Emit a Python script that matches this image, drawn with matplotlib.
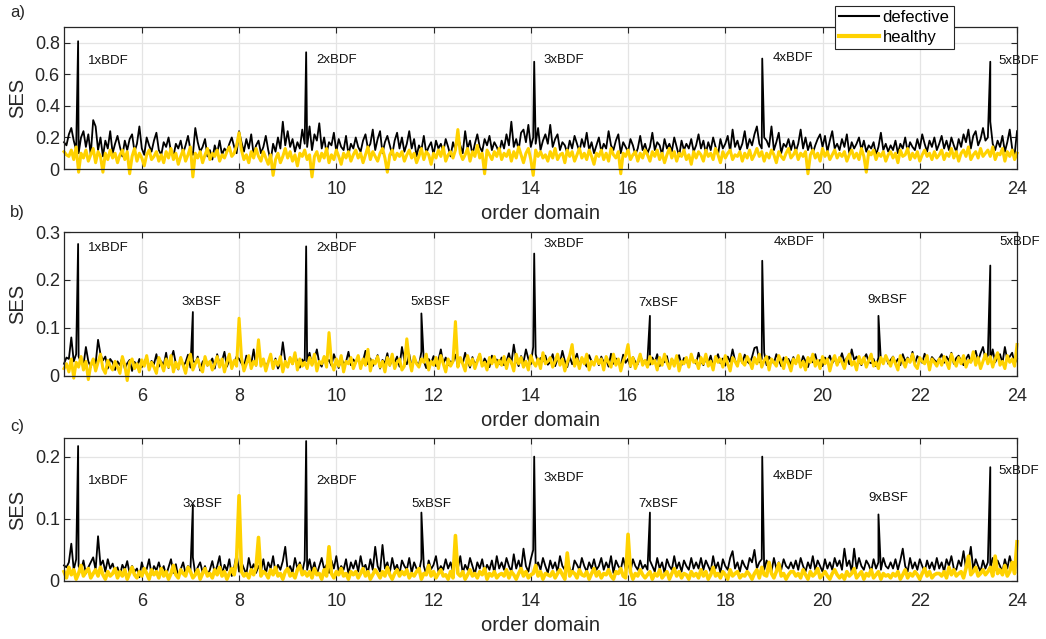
import numpy as np
import matplotlib
matplotlib.use('Agg')
import matplotlib.pyplot as plt

plt.rcParams['font.family'] = ['Liberation Sans', 'DejaVu Sans']

# ---------------- data ----------------
order_start, order_end = 4.4, 24.0
x_ticks = [6, 8, 10, 12, 14, 16, 18, 20, 22, 24]
bdf_orders = [4.69, 9.38, 14.07, 18.76, 23.45]
bsf_orders = [7.05, 11.75, 16.45, 21.15]
bdf_labels = ['1xBDF', '2xBDF', '3xBDF', '4xBDF', '5xBDF']
bsf_labels = ['3xBSF', '5xBSF', '7xBSF', '9xBSF']

# panel a: noise floor in units of 0.01
a_defective = [
    17,15,22,26,18,12,10,20,24,14,22,9,31,27,12,20,8,18,13,24,
    10,16,21,14,8,18,12,19,22,11,16,27,13,9,20,15,11,18,23,12,
    9,17,14,20,11,8,16,13,18,10,15,21,12,9,26,17,11,14,19,8,
    12,6,15,10,18,9,13,11,16,20,14,10,24,17,11,19,13,22,9,15,
    18,10,14,21,12,5,16,11,20,13,30,15,24,14,19,11,17,13,25,16,
    14,27,12,22,18,29,13,20,10,17,15,23,11,19,14,12,21,9,16,13,
    20,14,11,18,22,13,16,25,12,19,24,10,17,21,15,9,18,23,13,20,
    11,16,24,13,19,8,15,12,21,10,14,17,9,18,13,16,11,19,14,8,
    17,12,20,15,10,24,13,18,9,16,22,14,11,19,15,21,12,17,14,10,
    18,13,22,15,30,14,19,12,23,25,17,28,14,20,16,26,12,18,22,16,
    28,14,19,22,12,17,15,10,18,13,21,16,11,19,14,23,12,17,10,15,
    20,11,16,13,24,15,12,18,22,10,17,14,11,19,15,9,13,21,12,16,
    10,14,23,12,17,15,9,19,13,16,11,20,14,8,18,12,16,13,19,11,
    15,22,13,18,10,17,12,20,14,9,19,13,16,21,11,25,14,18,12,16,
    24,13,19,15,22,27,16,13,20,18,14,27,12,17,23,10,16,14,19,12,
    18,11,16,25,13,20,12,17,10,15,19,22,14,21,11,18,24,13,16,12,
    19,14,22,10,17,13,16,20,12,18,11,15,13,17,9,14,23,12,16,11,
    15,12,18,10,16,13,20,11,17,14,12,19,13,22,16,11,18,14,20,12,
    16,21,13,18,12,20,15,11,19,14,22,17,25,13,21,24,15,19,26,18,
    20,30,16,12,18,14,21,11,17,25,13,9,24]
a_healthy = [
    11,9,8,12,6,14,-2,10,7,12,5,9,13,4,11,8,-2,10,6,12,
    7,10,4,9,12,6,11,-3,8,13,5,10,7,2,9,12,6,8,11,5,
    9,4,11,7,13,6,10,3,8,12,5,9,14,-5,10,7,11,4,9,13,
    6,10,8,12,5,9,7,11,14,8,10,15,23,12,6,9,4,11,7,13,
    8,5,11,7,3,9,-4,6,10,4,8,13,7,11,5,9,2,10,8,12,
    6,9,-5,8,11,5,10,7,13,4,9,6,12,8,3,10,7,11,5,9,
    12,7,10,4,9,14,6,11,8,5,10,13,7,-2,9,12,6,10,8,11,
    5,9,12,7,10,4,8,13,6,11,9,3,10,7,12,8,14,5,9,11,
    7,12,25,10,6,9,13,5,11,8,15,7,10,-3,12,9,6,11,8,13,
    6,10,8,12,5,11,7,14,9,4,10,13,6,-4,12,8,11,7,9,5,
    11,7,13,6,9,10,4,12,8,11,5,9,13,7,10,6,12,8,3,10,
    8,12,6,10,5,13,9,7,11,-3,10,8,12,6,9,11,5,10,7,12,
    9,5,11,8,12,6,10,4,9,13,7,11,5,10,8,12,6,9,3,11,
    7,11,9,5,12,8,10,6,13,9,4,11,7,10,12,6,9,8,11,5,
    10,7,12,6,9,13,8,11,5,10,7,12,9,4,11,8,6,10,13,7,
    9,12,6,10,8,11,-3,9,12,7,10,5,13,8,11,6,9,12,7,10,
    8,11,5,9,12,7,10,6,13,8,-2,11,9,12,6,10,8,11,5,9,
    11,7,10,4,12,8,9,13,6,10,7,11,5,9,12,8,10,6,11,7,
    9,12,6,10,8,13,7,11,5,10,12,8,14,6,9,11,7,13,8,10,
    12,8,14,6,10,9,13,5,11,8,12,6,10]
a_defective_bdf_peaks = [0.81, 0.74, 0.68, 0.70, 0.68]

# panel b: noise floor in units of 0.001
b_defective = [
    25,38,35,80,30,45,40,28,22,60,30,18,35,25,75,45,32,40,15,35,
    28,12,30,22,38,15,26,33,10,29,20,35,18,27,40,14,31,24,45,19,
    30,22,48,16,35,52,25,13,38,20,28,44,17,32,26,40,11,29,35,21,
    27,36,15,45,24,31,50,19,33,22,28,40,35,26,18,42,30,24,55,21,
    60,25,33,18,29,41,22,36,15,27,70,31,20,38,24,45,28,17,34,26,
    30,48,22,35,55,26,19,40,28,33,21,45,30,16,38,25,29,50,22,34,
    27,39,18,31,52,24,36,20,29,43,15,33,26,47,21,35,28,40,19,60,
    32,24,45,18,37,28,22,50,30,16,35,26,41,20,33,55,25,38,22,30,
    28,44,19,35,25,48,30,17,39,23,32,45,21,36,27,18,42,29,34,24,
    38,22,30,47,25,65,33,20,41,28,55,35,24,60,45,26,37,30,42,23,
    29,45,20,35,27,52,31,18,40,24,33,46,22,37,28,19,43,30,25,36,
    22,40,28,33,19,46,25,36,30,21,44,27,35,18,39,29,24,41,31,26,
    34,23,38,27,45,20,32,28,41,17,35,26,30,43,22,37,29,24,40,31,
    25,48,30,22,37,28,42,19,33,45,26,36,21,40,29,55,32,24,38,27,
    44,30,25,39,58,60,28,35,48,22,40,31,26,45,33,20,38,29,35,24,
    39,27,34,22,41,30,18,36,28,45,25,33,20,38,30,42,26,35,23,31,
    47,28,38,24,55,33,40,30,22,36,45,29,26,35,20,38,31,28,42,25,
    33,40,26,35,22,45,30,38,28,50,25,41,34,27,46,30,22,39,33,28,
    36,45,27,40,31,48,25,37,42,30,22,35,44,28,39,52,31,47,60,35,
    42,30,55,28,38,45,26,60,33,40,48,25,35]
b_healthy = [
    15,25,8,35,-5,28,18,40,12,30,-8,22,35,10,28,45,15,5,32,20,
    12,30,18,5,40,22,-10,28,35,15,25,8,33,20,42,12,28,18,5,38,
    25,10,35,18,42,8,28,15,38,22,5,30,45,12,25,35,18,8,40,22,
    30,12,25,40,18,35,8,28,45,15,32,20,120,38,10,25,42,15,30,22,
    75,20,35,10,28,45,15,32,22,40,8,30,18,38,25,48,12,35,20,28,
    15,38,22,45,10,30,25,40,18,90,28,12,35,20,42,8,30,25,38,15,
    28,42,15,35,22,55,10,32,25,40,18,30,8,38,22,45,15,28,35,12,
    20,77,32,10,40,25,18,35,28,45,12,30,22,38,15,42,25,8,35,20,
    30,113,18,38,25,10,42,22,35,15,30,45,20,28,12,38,25,40,18,32,
    22,40,15,35,28,10,45,25,38,18,30,12,42,28,20,35,15,48,25,30,
    38,18,30,45,22,35,10,28,42,65,20,35,15,38,25,45,12,30,22,40,
    25,35,12,40,28,18,45,22,35,10,30,42,65,20,38,15,28,45,22,32,
    18,40,25,32,12,38,22,45,28,15,35,20,42,10,30,25,38,18,45,28,
    32,15,38,25,45,20,30,12,40,28,35,18,42,25,10,38,30,20,45,28,
    22,40,30,15,38,25,45,18,32,40,12,35,28,20,42,30,15,38,25,10,
    35,25,42,18,30,12,38,28,45,20,32,15,40,25,35,10,30,42,22,38,
    28,15,35,45,22,30,12,40,25,38,18,32,45,20,28,15,38,25,42,30,
    20,38,25,12,42,30,18,35,28,45,22,15,38,30,25,42,12,35,28,20,
    35,22,40,28,15,45,30,20,38,25,42,18,32,28,50,22,38,15,30,45,
    25,40,18,35,48,22,30,15,42,28,35,20,65]
b_defective_bdf_peaks = [0.275, 0.27, 0.255, 0.24, 0.23]
b_defective_bsf_peaks = [0.133, 0.13, 0.125, 0.125]

# panel c: noise floor in units of 0.001
c_defective = [
    25,22,30,60,18,35,24,15,33,12,22,30,38,18,72,25,33,15,35,20,
    28,14,22,9,26,18,32,12,24,15,20,6,30,14,19,35,10,24,17,30,
    15,24,9,22,35,13,27,6,19,30,12,24,17,38,11,22,30,14,24,9,
    18,32,13,24,40,11,26,17,35,8,22,44,15,30,20,11,37,18,27,13,
    24,15,35,11,30,20,40,13,26,18,32,55,17,24,13,37,20,30,15,33,
    18,35,15,30,11,24,37,19,26,13,33,20,40,15,24,18,35,11,30,20,
    33,15,40,20,26,13,35,18,55,24,15,58,20,30,13,37,19,26,11,33,
    24,18,37,13,30,20,15,35,24,11,33,19,26,40,15,24,18,35,20,30,
    15,33,20,40,13,26,18,37,24,11,30,20,35,15,26,18,33,13,40,20,
    30,18,37,24,15,43,20,33,18,52,24,15,35,50,20,30,18,37,24,13,
    33,20,30,15,40,24,18,35,20,13,33,26,18,37,24,15,30,20,35,18,
    24,37,18,30,20,40,13,33,24,18,37,20,30,15,35,24,18,33,20,26,
    18,33,24,15,37,20,30,13,35,24,18,40,20,30,15,33,24,18,37,20,
    30,20,37,18,33,24,15,40,20,30,13,35,24,18,37,48,20,30,15,33,
    24,18,37,30,50,20,30,35,18,33,24,15,37,20,30,18,35,24,20,30,
    20,33,18,37,24,15,30,20,40,18,33,24,15,35,20,30,18,37,24,33,
    18,52,24,33,15,52,20,37,24,18,33,26,15,35,20,30,18,37,24,20,
    30,20,35,18,33,52,24,15,37,20,30,18,35,24,15,33,20,30,18,37,
    20,30,15,35,24,40,20,18,33,24,48,20,30,55,18,35,24,15,33,20,
    30,20,37,18,33,24,15,35,20,40,24,18,45]
c_healthy = [
    15,5,22,10,18,3,12,25,8,15,20,5,12,18,8,22,10,3,15,8,
    12,20,5,15,8,18,3,12,22,10,5,15,8,20,12,3,18,10,15,5,
    20,8,15,3,12,25,10,5,18,12,8,22,15,5,10,18,3,12,20,8,
    12,5,18,10,22,8,15,3,12,20,10,35,137,15,8,12,5,18,10,22,
    70,8,15,12,5,18,10,22,8,12,3,15,20,8,12,5,18,25,10,15,
    8,15,5,20,10,12,3,18,8,55,12,5,15,10,20,8,12,3,15,10,
    15,5,12,20,8,15,3,10,18,12,5,15,8,22,10,3,12,18,8,15,
    10,18,5,12,8,15,20,3,12,10,25,8,15,5,12,18,8,10,3,15,
    5,73,12,8,15,3,10,18,8,12,5,15,10,20,3,12,8,15,5,10,
    12,8,18,5,15,10,3,12,20,8,15,5,10,12,25,8,15,3,12,10,
    8,15,5,12,18,10,3,45,8,15,12,5,18,10,8,15,3,12,20,8,
    15,5,12,10,18,8,3,15,12,20,8,5,75,15,3,12,8,18,10,5,
    10,15,3,12,8,18,5,10,15,3,12,20,8,15,5,12,10,3,15,8,
    12,5,18,8,15,3,10,22,8,12,5,15,10,3,18,8,12,15,5,10,
    8,15,10,3,12,18,5,22,10,8,30,12,5,15,28,8,12,3,10,15,
    15,8,12,5,18,10,3,15,8,12,20,5,10,15,8,3,12,18,10,5,
    10,3,15,8,12,20,5,10,15,3,12,8,18,5,10,15,3,12,8,10,
    5,12,8,15,3,10,18,5,12,8,15,10,3,12,20,8,15,5,10,12,
    12,8,15,5,22,10,18,8,12,15,5,20,40,10,15,22,8,12,18,10,
    15,22,8,40,12,18,10,25,8,15,30,12,63]
c_defective_bdf_peaks = [0.217, 0.225, 0.20, 0.20, 0.183]
c_defective_bsf_peaks = [0.122, 0.11, 0.11, 0.107]

# annotation positions (order, SES)
a_label_x = [4.89, 9.585, 14.256, 18.97, 23.62]
a_label_y = [0.687, 0.693, 0.693, 0.705, 0.687]
b_bdf_label_x = [4.89, 9.585, 14.256, 18.99, 23.64]
b_bdf_label_y = [0.267, 0.267, 0.275, 0.279, 0.279]
b_bsf_label_x = [6.81, 11.52, 16.21, 20.92]
b_bsf_label_y = [0.154, 0.154, 0.152, 0.158]
c_bdf_label_x = [4.89, 9.585, 14.256, 18.97, 23.62]
c_bdf_label_y = [0.161, 0.161, 0.166, 0.169, 0.177]
c_bsf_label_x = [6.83, 11.54, 16.21, 20.94]
c_bsf_label_y = [0.124, 0.124, 0.124, 0.134]

y_limits = [(0, 0.9), (0, 0.3), (0, 0.23)]
y_ticks = [[0, 0.2, 0.4, 0.6, 0.8], [0, 0.1, 0.2, 0.3], [0, 0.1, 0.2]]
y_ticklabels = [['0', '0.2', '0.4', '0.6', '0.8'], ['0', '0.1', '0.2', '0.3'], ['0', '0.1', '0.2']]


def series(floor, unit, peak_x=(), peak_y=()):
    x = np.linspace(order_start, order_end, len(floor))
    y = np.asarray(floor, dtype=float) * unit
    if len(peak_x):
        x = np.concatenate([x, np.asarray(peak_x, float)])
        y = np.concatenate([y, np.asarray(peak_y, float)])
    idx = np.argsort(x, kind='stable')
    return x[idx], y[idx]


black = '#000000'
yellow = '#FFD200'
axcol = '#262626'

fig = plt.figure(figsize=(10.46, 6.39), dpi=100)
positions = [[0.0612, 0.7355, 0.9111, 0.2222],
             [0.0612, 0.4120, 0.9111, 0.2249],
             [0.0612, 0.0908, 0.9111, 0.2238]]

panels = [
    (series(a_defective, 0.01, bdf_orders, a_defective_bdf_peaks),
     series(a_healthy, 0.01),
     list(zip(bdf_labels, a_label_x, a_label_y))),
    (series(b_defective, 0.001, bdf_orders + bsf_orders, b_defective_bdf_peaks + b_defective_bsf_peaks),
     series(b_healthy, 0.001),
     list(zip(bdf_labels, b_bdf_label_x, b_bdf_label_y)) + list(zip(bsf_labels, b_bsf_label_x, b_bsf_label_y))),
    (series(c_defective, 0.001, bdf_orders + bsf_orders, c_defective_bdf_peaks + c_defective_bsf_peaks),
     series(c_healthy, 0.001),
     list(zip(bdf_labels, c_bdf_label_x, c_bdf_label_y)) + list(zip(bsf_labels, c_bsf_label_x, c_bsf_label_y))),
]
letters = ['a)', 'b)', 'c)']
letter_y = [12, 212, 427]
healthy_lw = [2.2, 2.2, 2.6]

axes = []
for i, (pos, (d, h, labels)) in enumerate(zip(positions, panels)):
    ax = fig.add_axes(pos)
    axes.append(ax)
    ld, = ax.plot(d[0], d[1], color=black, lw=1.3, label='defective', clip_on=False, zorder=3)
    lh, = ax.plot(h[0], h[1], color=yellow, lw=healthy_lw[i], label='healthy', clip_on=False, zorder=4)
    ax.set_xlim(order_start, order_end)
    ax.set_ylim(*y_limits[i])
    ax.set_xticks(x_ticks)
    ax.set_xticklabels([str(t) for t in x_ticks])
    ax.set_yticks(y_ticks[i])
    ax.set_yticklabels(y_ticklabels[i])
    ax.grid(True, color='#e4e4e4', lw=0.9)
    ax.set_axisbelow(True)
    ax.tick_params(direction='in', length=4.5, width=0.8, top=True, right=True,
                   labelsize=13, colors=axcol)
    ax.tick_params(axis='x', pad=8.5)
    ax.tick_params(axis='y', pad=3)
    for s in ax.spines.values():
        s.set_color(axcol)
        s.set_linewidth(0.9)
        s.set_zorder(5)
    ax.set_xlabel('order domain', fontsize=14.5, color=axcol)
    ax.xaxis.set_label_coords(0.5, -0.245)
    ax.set_ylabel('SES', fontsize=14.5, color=axcol)
    ax.yaxis.set_label_coords(-0.039, 0.5)
    for txt, tx, ty in labels:
        ax.text(tx, ty, txt, fontsize=9.5, ha='left', va='center', color='#111111', zorder=6)
    fig.text(10 / 1046, 1 - letter_y[i] / 639, letters[i], fontsize=12, va='center', ha='left', color=axcol)

leg = axes[0].legend(handles=[ld, lh], loc='upper left', bbox_to_anchor=(0.809, 1.148),
                     borderaxespad=0, fontsize=12, frameon=True, fancybox=False,
                     handlelength=2.4, handletextpad=0.2, labelspacing=0.3,
                     borderpad=0.25, framealpha=1)
leg.get_frame().set_edgecolor(axcol)
leg.get_frame().set_linewidth(0.8)
leg.get_lines()[0].set_linewidth(1.5)
leg.get_lines()[1].set_linewidth(3.0)
leg.set_zorder(10)

fig.savefig('out.png', dpi=100)
